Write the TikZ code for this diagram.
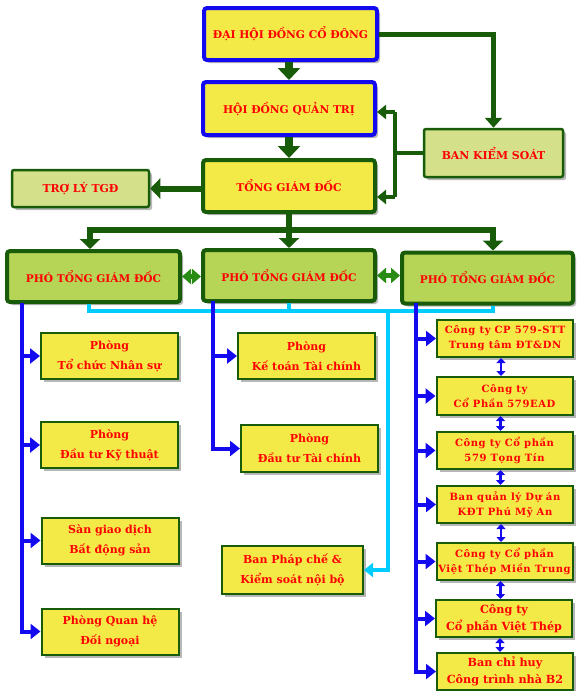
\documentclass[tikz,border=0pt]{standalone}
\usepackage{fontspec}
\setmainfont{DejaVu Serif}
\newfontfamily\widefont{DejaVu Serif}[LetterSpace=6]
\usetikzlibrary{arrows.meta,shadows}
\definecolor{yellowbox}{RGB}{243,234,72}
\definecolor{lightbox}{RGB}{212,225,138}
\definecolor{vicebox}{RGB}{182,212,85}
\definecolor{darkgreen}{RGB}{24,92,10}
\definecolor{midgreen}{RGB}{40,140,20}
\definecolor{blueline}{RGB}{20,10,240}
\definecolor{cyanline}{RGB}{0,204,255}

\begin{document}
\begin{tikzpicture}[x=1pt,y=-1pt,
  shade/.style={drop shadow={shadow xshift=3pt,shadow yshift=-3pt,opacity=0.4,fill=black!70}},
  basebox/.style={shade,inner sep=0pt,align=center,text=red},
  board/.style={basebox,draw=blueline,line width=4pt,fill=yellowbox,rounded corners=3pt,font=\fontsize{10.7}{12}\selectfont\bfseries},
  chief/.style={basebox,draw=darkgreen,line width=4pt,fill=yellowbox,rounded corners=3pt,font=\fontsize{10.7}{12}\selectfont\bfseries},
  lightbox/.style={basebox,draw=darkgreen,line width=2.5pt,fill=lightbox,rounded corners=2pt,font=\fontsize{10.9}{12}\selectfont\bfseries},
  vicebox/.style={basebox,draw=darkgreen,line width=4pt,fill=vicebox,rounded corners=3pt,font=\fontsize{10.6}{12}\selectfont\bfseries,minimum height=51pt},
  dept/.style={basebox,draw=darkgreen,line width=2pt,fill=yellowbox,minimum width=137pt,minimum height=46pt,font=\fontsize{11}{20}\selectfont\bfseries},
  firm/.style={basebox,draw=darkgreen,line width=2pt,fill=yellowbox,minimum width=136pt,minimum height=37pt,font=\widefont\fontsize{10}{15}\selectfont\bfseries},
  bigfirm/.style={firm,font=\fontsize{11.2}{17.5}\selectfont\bfseries},
  gline/.style={draw=darkgreen,line width=6pt},
  gbig/.style={draw=darkgreen,line width=8pt,-{Triangle[width=22pt,length=12pt]}},
  garrow/.style={draw=darkgreen,line width=6pt,-{Triangle[width=20pt,length=10pt]}},
  gthin/.style={draw=darkgreen,line width=4pt},
  gthinarrow/.style={draw=darkgreen,line width=4pt,-{Triangle[width=14pt,length=9pt]}},
  gmidarrow/.style={draw=darkgreen,line width=5pt,-{Triangle[width=17pt,length=10pt]}},
  gdouble/.style={draw=midgreen,line width=4.5pt,{Triangle[width=15pt,length=9pt]}-{Triangle[width=15pt,length=9pt]}},
  bline/.style={draw=blueline,line width=4pt},
  barrow/.style={draw=blueline,line width=4pt,-{Triangle[width=15pt,length=10pt]}},
  bdouble/.style={draw=blueline,line width=2.5pt,{Triangle[width=9pt,length=5pt]}-{Triangle[width=9pt,length=5pt]}},
  cline/.style={draw=cyanline,line width=4pt},
  carrow/.style={draw=cyanline,line width=4pt,-{Triangle[width=14pt,length=9pt]}}
]
\useasboundingbox (0,0) rectangle (580,691);

\node[board,minimum width=173pt,minimum height=52pt] (dhdcd) at (290.5,34) {ĐẠI HỘI ĐỒNG CỔ ĐÔNG};
\node[board,minimum width=172pt,minimum height=53pt] (hdqt) at (289,108.5) {HỘI ĐỒNG QUẢN TRỊ};
\node[chief,minimum width=172pt,minimum height=52pt] (tgd) at (289,186) {TỔNG GIÁM ĐỐC};
\node[lightbox,minimum width=139pt,minimum height=48pt] (bks) at (493.5,153) {BAN KIỂM SOÁT};
\node[lightbox,minimum width=137pt,minimum height=37pt] (troly) at (80.5,188.5) {TRỢ LÝ TGĐ};

\node[vicebox,minimum width=173pt] (ptgd1) at (93.5,276.5) {PHÓ TỔNG GIÁM ĐỐC};
\node[vicebox,minimum width=172pt] (ptgd2) at (289,275.5) {PHÓ TỔNG GIÁM ĐỐC};
\node[vicebox,minimum width=171pt] (ptgd3) at (487.5,278) {PHÓ TỔNG GIÁM ĐỐC};

\node[dept] (tcns) at (109.5,356) {Phòng\\Tổ chức Nhân sự};
\node[dept] (dtkt) at (109.5,445) {Phòng\\Đầu tư Kỹ thuật};
\node[dept] (sgd) at (110,540.5) {Sàn giao dịch\\Bất động sản};
\node[dept] (qhdn) at (110,631.5) {Phòng Quan hệ\\Đối ngoại};

\node[dept] (ktc) at (306.5,356) {Phòng\\Kế toán Tài chính};
\node[dept,minimum height=47pt] (dttc) at (309.5,448.5) {Phòng\\Đầu tư Tài chính};
\node[dept,minimum width=141pt,minimum height=48pt] (bpc) at (292.5,570) {Ban Pháp chế \&\\Kiểm soát nội bộ};

\node[firm] (c1) at (505,338.5) {Công ty CP 579-STT\\Trung tâm ĐT\&DN};
\node[firm,minimum height=38pt] (c2) at (504.5,396) {Công ty\\Cổ Phần 579EAD};
\node[firm] (c3) at (504.5,450.5) {Công ty Cổ phần\\579 Tọng Tín};
\node[firm] (c4) at (505,504.5) {Ban quản lý Dự án\\KĐT Phú Mỹ An};
\node[firm] (c5) at (504.5,561.5) {Công ty Cổ phần\\Việt Thép Miền Trung};
\node[bigfirm] (c6) at (504,618.5) {Công ty\\Cổ phần Việt Thép};
\node[bigfirm] (c7) at (505,671.5) {Ban chỉ huy\\Công trình nhà B2};

\coordinate (gl) at (90,230);
\coordinate (gt) at (289,230);
\coordinate (gr) at (493,230);
\coordinate (bjt) at (395,112);
\coordinate (bjm) at (395,153);
\coordinate (bjb) at (395,197);
\coordinate (lsp) at (22,303);
\coordinate (msp) at (213,301);
\coordinate (rsp) at (416,303);
\coordinate (cyl) at (89,311);
\coordinate (cym) at (388,311);
\coordinate (cyr) at (493,311);

\draw[gbig] (hdqt.north |- dhdcd.south) -- (hdqt.north);
\draw[gbig] (tgd.north |- hdqt.south) -- (tgd.north);
\draw[gmidarrow] (dhdcd.east) -| (bks.north);
\draw[gthin] (bks.west) -- (bjm);
\draw[gthin] (bjt) -- (bjb);
\draw[gthinarrow] (bjt) -- (hdqt.east |- bjt);
\draw[gthinarrow] (bjb) -- (tgd.east |- bjb);
\draw[garrow] (tgd.west |- troly.east) -- (troly.east);

\draw[gline] (tgd.south) -- (gt);
\draw[gline] ([xshift=-3pt]gl) -- ([xshift=3pt]gr);
\draw[garrow] (gl) -- (ptgd1.north -| gl);
\draw[garrow] (gt) -- (ptgd2.north);
\draw[garrow] (gr) -- (ptgd3.north -| gr);
\draw[gdouble] (ptgd1.east) -- (ptgd1.east -| ptgd2.west);
\draw[gdouble] (ptgd2.east) -- (ptgd2.east -| ptgd3.west);

\draw[cline] (ptgd1.south -| cyl) -- (cyl) -- (cyr) -- (ptgd3.south -| cyr);
\draw[cline] (ptgd2.south) -- (ptgd2.south |- cyl);
\draw[carrow] (cym) |- (bpc.east);

\draw[bline] (lsp) -- (lsp |- qhdn.west);
\draw[barrow] (lsp |- tcns.west) -- (tcns.west);
\draw[barrow] (lsp |- dtkt.west) -- (dtkt.west);
\draw[barrow] (lsp |- sgd.west) -- (sgd.west);
\draw[barrow] ([xshift=-2pt]lsp |- qhdn.west) -- (qhdn.west);

\draw[bline] (msp) -- (msp |- dttc.west);
\draw[barrow] (msp |- ktc.west) -- (ktc.west);
\draw[barrow] ([xshift=-2pt]msp |- dttc.west) -- (dttc.west);

\draw[bline] (rsp) -- (rsp |- c7.west);
\draw[barrow] (rsp |- c1.west) -- (c1.west);
\draw[barrow] (rsp |- c2.west) -- (c2.west);
\draw[barrow] (rsp |- c3.west) -- (c3.west);
\draw[barrow] (rsp |- c4.west) -- (c4.west);
\draw[barrow] (rsp |- c5.west) -- (c5.west);
\draw[barrow] (rsp |- c6.west) -- (c6.west);
\draw[barrow] ([xshift=-2pt]rsp |- c7.west) -- (c7.west);

\draw[bdouble] ([xshift=-4pt]c1.south) -- ([xshift=-4pt]c1.south |- c2.north);
\draw[bdouble] ([xshift=-4pt]c2.south) -- ([xshift=-4pt]c2.south |- c3.north);
\draw[bdouble] ([xshift=-4pt]c3.south) -- ([xshift=-4pt]c3.south |- c4.north);
\draw[bdouble] ([xshift=-4pt]c4.south) -- ([xshift=-4pt]c4.south |- c5.north);
\draw[bdouble] ([xshift=-4pt]c5.south) -- ([xshift=-4pt]c5.south |- c6.north);
\draw[bdouble] ([xshift=-4pt]c6.south) -- ([xshift=-4pt]c6.south |- c7.north);
\end{tikzpicture}
\end{document}
